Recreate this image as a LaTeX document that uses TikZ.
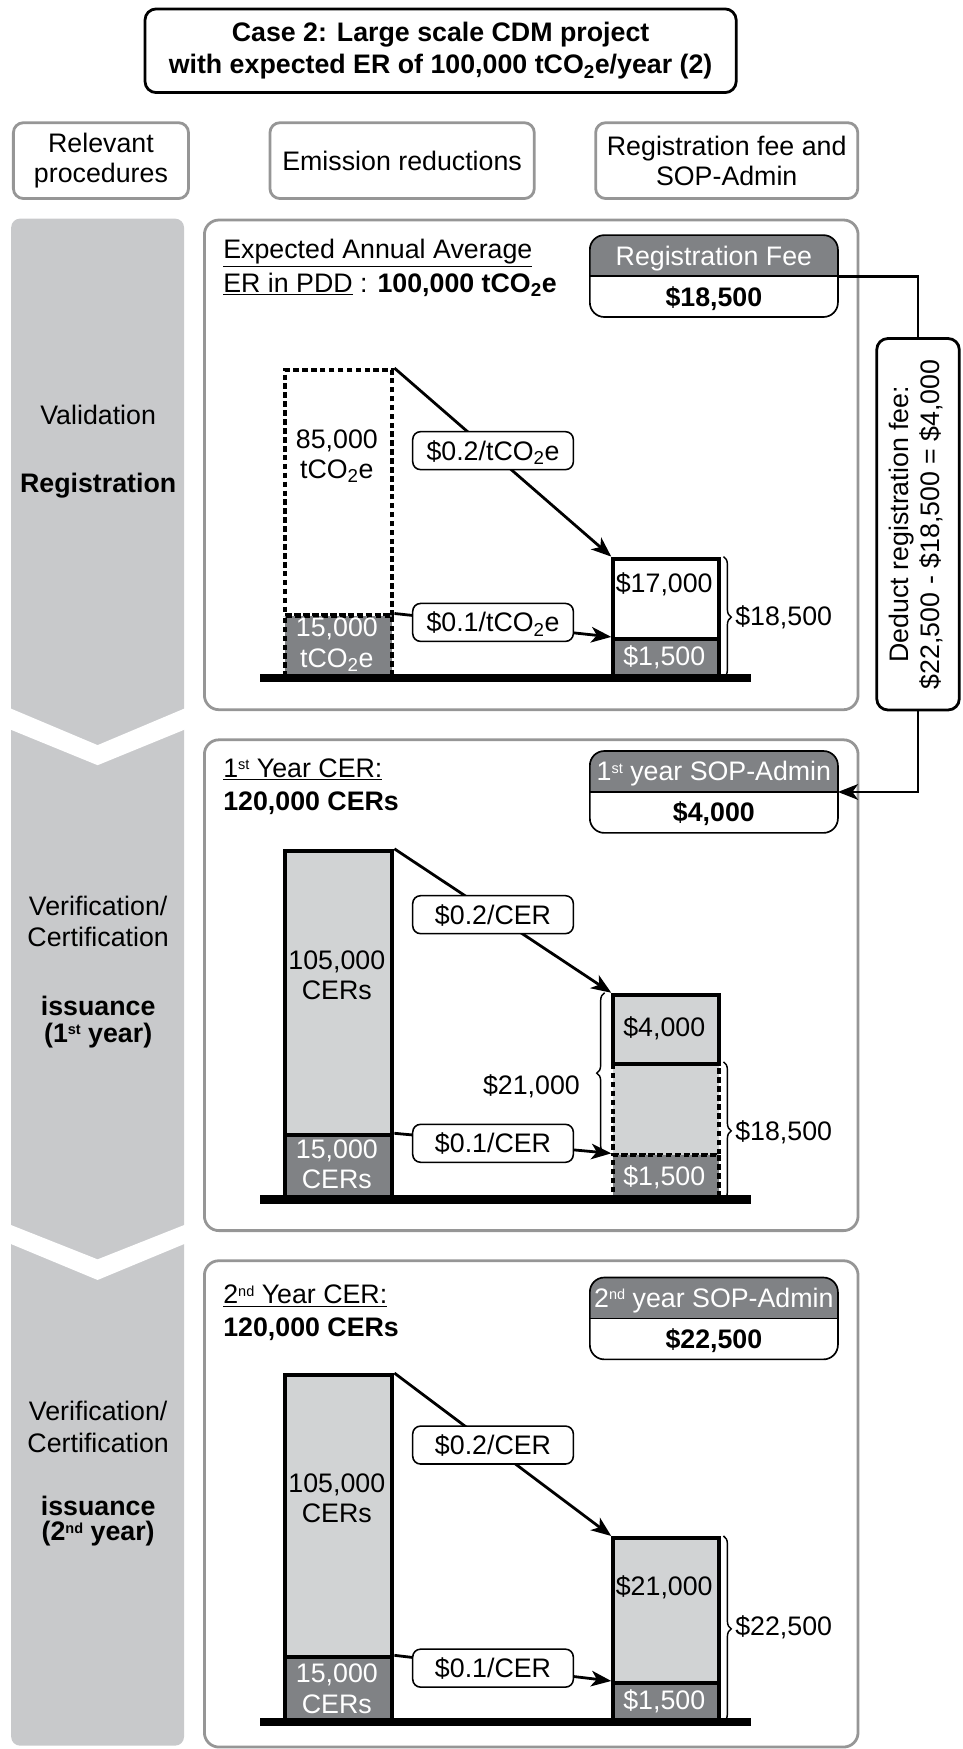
\documentclass[tikz,border=0pt]{standalone}
\usepackage{fontspec}
\setmainfont{Liberation Sans}
\usetikzlibrary{arrows.meta,decorations.pathreplacing,calc}
\definecolor{colgray}{RGB}{200,201,203}
\definecolor{dkgray}{RGB}{128,130,133}
\definecolor{ltgray}{RGB}{209,211,212}
\definecolor{rimgray}{RGB}{150,150,150}
\newcommand{\cotwo}{tCO\textsubscript{2}e}
% small ordinal suffix, top aligned with the capitals
\newcommand{\ordsuf}[1]{\raisebox{7pt}{\fontsize{13}{13}\selectfont #1}}
% two-tone fee box: name, centre, heading, amount
\newcommand{\twotone}[4]{%
  \node[minimum width=222pt, minimum height=73pt] (#1) at (#2) {};
  \begin{scope}
    \clip[rounded corners=13pt] (#1.south west) rectangle (#1.north east);
    \fill[dkgray] (#1.north west) rectangle (#1.east);
  \end{scope}
  \draw[line width=1.5pt, rounded corners=13pt] (#1.south west) rectangle (#1.north east);
  \draw[line width=1.5pt] (#1.west) -- (#1.east);
  \node[captext, text=white] (#1-head) at ($(#1.north)!0.5!(#1.center)$) {#3};
  \node[captext, font=\bfseries] (#1-sum) at ($(#1.south)!0.5!(#1.center)$) {#4};
}
\begin{document}
\fontsize{24}{27}\selectfont
\begin{tikzpicture}[x=1pt, y=-1pt,
  every node/.style={inner sep=0pt},
  captext/.style={text height=17pt, text depth=0pt},
  hdr/.style={draw=rimgray, line width=2.5pt, rounded corners=9pt, fill=white, align=center, minimum height=68pt},
  panel/.style={draw=rimgray, line width=2.5pt, rounded corners=13pt, fill=white, anchor=north west, minimum width=586pt},
  bar/.style={draw=black, line width=3.6pt, anchor=north west},
  dbar/.style={draw=black, line width=3.6pt, dash pattern=on 5pt off 3pt, anchor=north west},
  lbl/.style={draw=black, line width=1.4pt, fill=white, rounded corners=7pt, minimum width=144pt, minimum height=34pt, text height=17pt, text depth=0pt},
  flow/.style={line width=2.5pt, -{Stealth[length=18pt, width=14pt, inset=5pt]}},
  brace/.style={line width=1.3pt, decorate, decoration={brace, amplitude=7pt}},
  ground/.style={fill=black}
]
\useasboundingbox (0,0) rectangle (863,1568);

% ---------- title and column heads ----------
\node[draw, line width=2.5pt, rounded corners=10pt, minimum width=530pt, minimum height=75pt,
      align=center, font=\bfseries\fontsize{24}{29}\selectfont] (title) at (395,45.5)
  {Case 2: Large scale CDM project\\with expected ER of 100,000 \cotwo/year (2)};
\node[hdr, minimum width=157pt] (h1) at (90.5,144) {Relevant\\procedures};
\node[hdr, minimum width=237pt] (h2) at (360.5,144) {Emission reductions};
\node[hdr, minimum width=235pt] (h3) at (651.5,144) {Registration fee and\\SOP-Admin};

% ---------- procedure column ----------
\fill[colgray, rounded corners=8pt] (10,196) rectangle (165,1565);
\fill[white] (8,634.5) -- (87.5,668) -- (167,634.5) -- (167,653.5) -- (87.5,686) -- (8,653.5) -- cycle;
\fill[white] (8,1097.5) -- (87.5,1129) -- (167,1097.5) -- (167,1114.5) -- (87.5,1147.5) -- (8,1114.5) -- cycle;

\node[captext] (pv) at (88,372) {Validation};
\node[captext, font=\bfseries] (pr) at (88,433) {Registration};
\node[captext] (pv1) at (88,812) {Verification/};
\node[captext] (pc1) at (88,840) {Certification};
\node[captext, font=\bfseries] (pi1) at (88,902) {issuance};
\node[captext, font=\bfseries] (py1) at (88,926) {(1\ordsuf{st} year)};
\node[captext] (pv2) at (88,1265) {Verification/};
\node[captext] (pc2) at (88,1294) {Certification};
\node[captext, font=\bfseries] (pi2) at (88,1350) {issuance};
\node[captext, font=\bfseries] (py2) at (88,1373) {(2\ordsuf{nd} year)};

% ---------- panels ----------
\node[panel, minimum height=439pt] (p1) at (182,196) {};
\node[panel, minimum height=440pt] (p2) at (182,662) {};
\node[panel, minimum height=436pt] (p3) at (182,1129) {};

% ---------- panel 1: registration ----------
\node[anchor=base west] (t1a) at (200,232) {\underline{Expected Annual Average}};
\node[anchor=base west] (t1b) at (200,262) {\underline{ER in PDD} : \textbf{100,000 \cotwo}};
\twotone{fee1}{640,247.5}{Registration Fee}{\$18,500}

\node[dbar, minimum width=96pt, minimum height=220pt] (e1hi) at (254,330) {};
\node[dbar, fill=dkgray, minimum width=96pt, minimum height=54pt] (e1lo) at (254,550) {};
\node[align=center] (e1hit) at (302,409) {85,000\\\cotwo};
\node[align=center, text=white] (e1lot) at (302,578) {15,000\\\cotwo};

\node[bar, fill=white, minimum width=95pt, minimum height=72pt] (f1hi) at (548,499) {};
\node[bar, fill=dkgray, minimum width=95pt, minimum height=33pt] (f1lo) at (548,571) {};
\node[captext] (f1hit) at (595.5,523) {\$17,000};
\node[captext, text=white] (f1lot) at (595.5,588) {\$1,500};

\draw[flow] (e1hi.north east) -- (f1hi.north west);
\draw[flow] (e1lo.north east) -- (f1lo.north west);
\node[lbl] (r1a) at (442,404) {\$0.2/\cotwo};
\node[lbl] (r1b) at (442,558) {\$0.1/\cotwo};
\draw[brace] ([xshift=2pt]f1hi.north east) -- ([xshift=2pt]f1lo.south east);
\node[captext, anchor=west] (s1) at (659,552) {\$18,500};
\fill[ground] (233,604) rectangle (673,611.5);

% ---------- deduction of the registration fee ----------
\node[draw, line width=2.5pt, rounded corners=10pt, fill=white, minimum width=74pt, minimum height=333pt] (ded) at (823,470)
  {\rotatebox{90}{\begin{tabular}{@{}c@{}}Deduct registration fee:\\\$22,500 - \$18,500 = \$4,000\end{tabular}}};

% ---------- panel 2: first year ----------
\node[anchor=base west] (t2a) at (200,697) {\underline{1\ordsuf{st} Year CER:}};
\node[anchor=base west, font=\bfseries] (t2b) at (200,727) {120,000 CERs};
\twotone{sop1}{640,710}{1\ordsuf{st} year SOP-Admin}{\$4,000}

\node[bar, fill=ltgray, minimum width=96pt, minimum height=255pt] (e2hi) at (254,761) {};
\node[bar, fill=dkgray, minimum width=96pt, minimum height=56pt] (e2lo) at (254,1016) {};
\node[align=center] (e2hit) at (302,874) {105,000\\CERs};
\node[align=center, text=white] (e2lot) at (302,1044) {15,000\\CERs};

\node[dbar, fill=ltgray, minimum width=95pt, minimum height=82pt] (f2mid) at (548,952) {};
\node[dbar, fill=dkgray, minimum width=95pt, minimum height=38pt] (f2lo) at (548,1034) {};
\node[bar, fill=ltgray, minimum width=95pt, minimum height=62pt] (f2hi) at (548,890) {};
\node[captext] (f2hit) at (595.5,921) {\$4,000};
\node[captext, text=white] (f2lot) at (595.5,1054) {\$1,500};

\draw[flow] (e2hi.north east) -- (f2hi.north west);
\draw[flow] (e2lo.north east) -- (f2lo.north west);
\node[lbl] (r2a) at (442,820) {\$0.2/CER};
\node[lbl] (r2b) at (442,1025) {\$0.1/CER};
\draw[brace] ([xshift=-6pt]f2lo.north west) -- ([xshift=-6pt]f2hi.north west);
\node[captext, anchor=east] (s2a) at (520,973) {\$21,000};
\draw[brace] ([xshift=2pt]f2mid.north east) -- ([xshift=2pt]f2lo.south east);
\node[captext, anchor=west] (s2b) at (659,1014) {\$18,500};
\fill[ground] (233,1071.5) rectangle (673,1079);

\draw[line width=2.6pt] (fee1.east) -| (ded.north);
\draw[flow] (ded.south) |- (sop1.east);

% ---------- panel 3: second year ----------
\node[anchor=base west] (t3a) at (200,1169) {\underline{2\ordsuf{nd} Year CER:}};
\node[anchor=base west, font=\bfseries] (t3b) at (200,1198) {120,000 CERs};
\twotone{sop2}{640,1182}{2\ordsuf{nd} year SOP-Admin}{\$22,500}

\node[bar, fill=ltgray, minimum width=96pt, minimum height=253pt] (e3hi) at (254,1231) {};
\node[bar, fill=dkgray, minimum width=96pt, minimum height=56pt] (e3lo) at (254,1484) {};
\node[align=center] (e3hit) at (302,1343) {105,000\\CERs};
\node[align=center, text=white] (e3lot) at (302,1514) {15,000\\CERs};

\node[bar, fill=ltgray, minimum width=95pt, minimum height=130pt] (f3hi) at (548,1377) {};
\node[bar, fill=dkgray, minimum width=95pt, minimum height=33pt] (f3lo) at (548,1507) {};
\node[captext] (f3hit) at (595.5,1422) {\$21,000};
\node[captext, text=white] (f3lot) at (595.5,1524) {\$1,500};

\draw[flow] (e3hi.north east) -- (f3hi.north west);
\draw[flow] (e3lo.north east) -- (f3lo.north west);
\node[lbl] (r3a) at (442,1295.5) {\$0.2/CER};
\node[lbl] (r3b) at (442,1495.5) {\$0.1/CER};
\draw[brace] ([xshift=2pt]f3hi.north east) -- ([xshift=2pt]f3lo.south east);
\node[captext, anchor=west] (s3) at (659,1458) {\$22,500};
\fill[ground] (233,1540) rectangle (673,1547.5);
\end{tikzpicture}
\end{document}
